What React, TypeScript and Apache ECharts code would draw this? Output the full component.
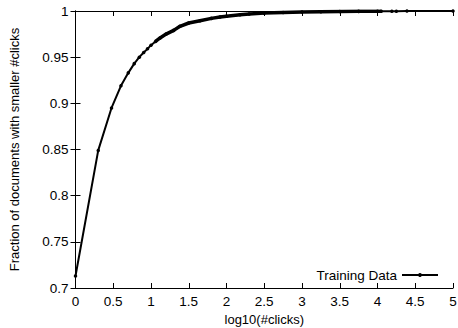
import React, { useEffect, useRef } from "react";
import * as echarts from "echarts";

const xValues = [0, 0.301, 0.477, 0.602, 0.699, 0.778, 0.845, 0.903, 0.954, 1.0, 1.06, 1.12, 1.2, 1.3, 1.384, 1.5, 1.649, 1.8, 1.914, 2.0, 2.18, 2.3, 2.5, 2.75, 3.0, 3.25, 3.5, 3.75, 4.0, 4.05, 4.19, 4.25, 4.39, 5.0];
const yValues = [0.713, 0.849, 0.895, 0.919, 0.933, 0.943, 0.95, 0.955, 0.959, 0.963, 0.967, 0.9708, 0.975, 0.979, 0.9834, 0.987, 0.9895, 0.992, 0.9935, 0.9944, 0.996, 0.9968, 0.9977, 0.9984, 0.9989, 0.9992, 0.9994, 0.9996, 0.9997, 0.9997, 0.9998, 0.9998, 0.9999, 1.0];
const xTicks = [0, 0.5, 1, 1.5, 2, 2.5, 3, 3.5, 4, 4.5, 5];
const yTicks = [0.7, 0.75, 0.8, 0.85, 0.9, 0.95, 1];
const seriesName = "Training Data";
const xTitle = "log10(#clicks)";
const yTitle = "Fraction of documents with smaller #clicks";
const denseFrom = 1.06;
const denseTo = 4.05;

const FONT = "Liberation Sans, Arial, Helvetica, sans-serif";

export default function App() {
  const ref = useRef<HTMLDivElement>(null);
  useEffect(() => {
    if (!ref.current) return;
    const chart = echarts.init(ref.current, null, { renderer: "svg" });
    const pts = xValues.map((x, i) => [x, yValues[i]]);
    const dense = pts.filter((p) => p[0] >= denseFrom && p[0] <= denseTo);
    const axisLine = { show: true, lineStyle: { color: "#000", width: 1 } };
    const axisTick = { show: true, inside: true, length: 5, lineStyle: { color: "#000", width: 1 } };
    const label = { color: "#000", fontFamily: FONT, fontSize: 13.5 };
    chart.setOption({
      animation: false,
      grid: { left: 75.5, right: 5, top: 11, bottom: 40, outerBoundsMode: "none", containLabel: false },
      legend: {
        data: [seriesName],
        right: 14,
        bottom: 41,
        align: "right",
        itemWidth: 36,
        itemHeight: 5,
        itemGap: 6,
        textStyle: { color: "#000", fontFamily: FONT, fontSize: 13.5 },
      },
      xAxis: [
        {
          type: "value",
          min: 0,
          max: 5,
          interval: 0.5,
          position: "bottom",
          axisLine,
          axisTick,
          splitLine: { show: false },
          axisLabel: { ...label, margin: 6, formatter: (v: number) => (xTicks.includes(v) ? String(v) : "") },
          name: xTitle,
          nameLocation: "middle",
          nameGap: 25,
          nameTextStyle: { color: "#000", fontFamily: FONT, fontSize: 13 },
        },
        {
          type: "value",
          min: 0,
          max: 5,
          interval: 0.5,
          position: "top",
          axisLine,
          axisTick,
          splitLine: { show: false },
          axisLabel: { show: false },
        },
      ],
      yAxis: [
        {
          type: "value",
          min: 0.7,
          max: 1,
          interval: 0.05,
          position: "left",
          axisLine,
          axisTick,
          splitLine: { show: false },
          axisLabel: { ...label, margin: 7, formatter: (v: number) => (yTicks.some((t) => Math.abs(t - v) < 1e-6) ? String(parseFloat(v.toFixed(2))) : "") },
          name: yTitle,
          nameLocation: "middle",
          nameGap: 55,
          nameTextStyle: { color: "#000", fontFamily: FONT, fontSize: 13 },
        },
        {
          type: "value",
          min: 0.7,
          max: 1,
          interval: 0.05,
          position: "right",
          axisLine,
          axisTick,
          splitLine: { show: false },
          axisLabel: { show: false },
        },
      ],
      series: [
        {
          name: seriesName,
          type: "line",
          data: pts,
          showSymbol: true,
          symbol: "circle",
          symbolSize: 3.5,
          lineStyle: { color: "#000", width: 2 },
          itemStyle: { color: "#000" },
        },
        {
          name: "dense",
          type: "line",
          data: dense,
          showSymbol: false,
          symbol: "none",
          lineStyle: { color: "#000", width: 3.5 },
          silent: true,
        },
      ],
    });
    return () => chart.dispose();
  }, []);
  return <div ref={ref} style={{ position: "fixed", left: 0, top: 0, width: 458, height: 328, background: "#fff" }} />;
}
